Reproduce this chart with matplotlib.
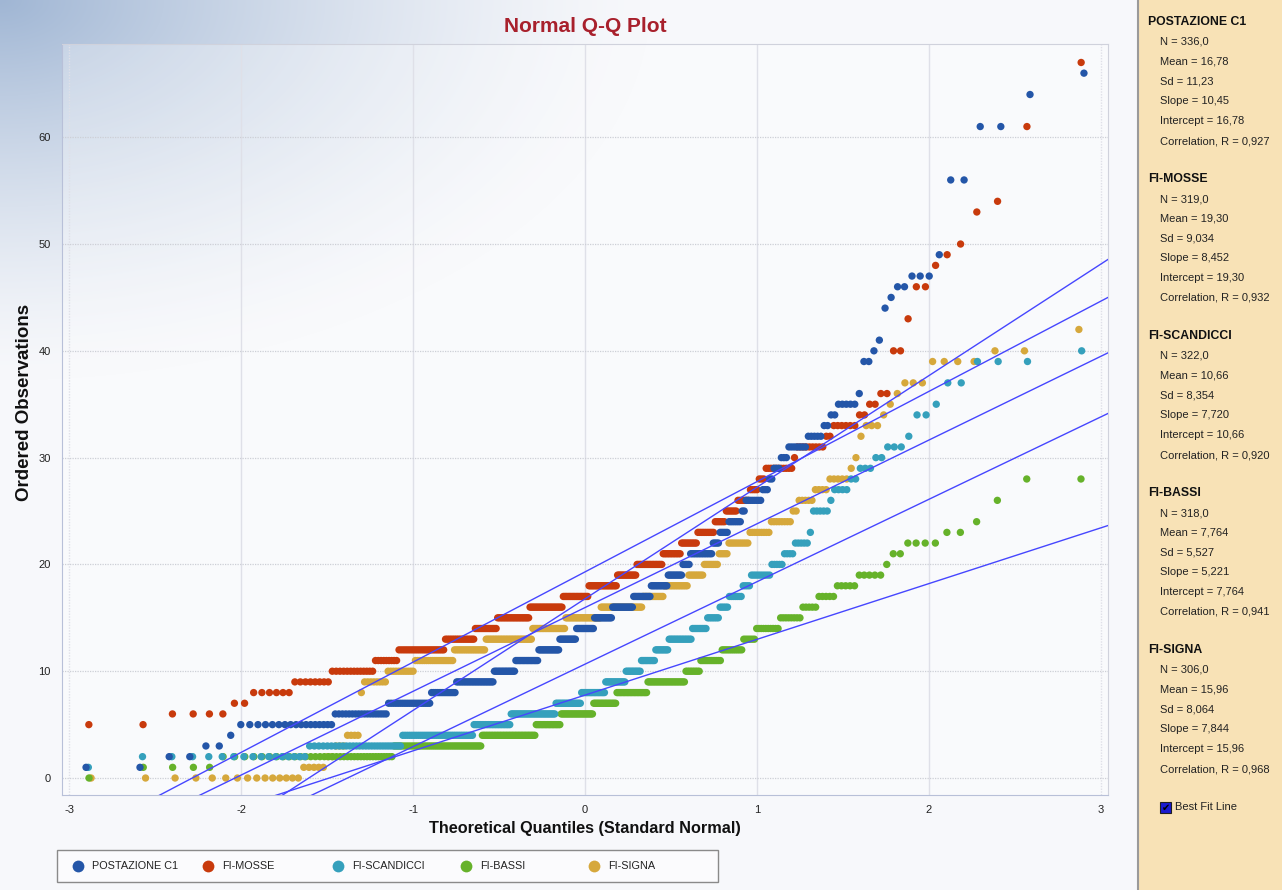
import numpy as np
import matplotlib
matplotlib.use("Agg")
import matplotlib.pyplot as plt
from matplotlib.patches import Rectangle
from matplotlib.lines import Line2D
from statistics import NormalDist
import math

plt.rcParams['font.family'] = ['Liberation Sans', 'DejaVu Sans']
plt.rcParams['axes.unicode_minus'] = False

# ---------------- data (ordered observations as value / count) ----------------
series_names = ["POSTAZIONE C1", "FI-MOSSE", "FI-SCANDICCI", "FI-BASSI", "FI-SIGNA"]
series_colors = ["#2456a8", "#c83a0c", "#35a0bc", "#66b22a", "#d6a83c"]

c1_values = list(range(1, 37)) + [39, 40, 41, 44, 45, 46, 47, 49, 56, 61, 64, 66]
c1_counts = [2, 2, 2, 1, 17, 18, 20, 14, 24, 15, 17, 16, 13, 14, 14, 16, 13, 12, 10, 5,
             14, 4, 5, 7, 2, 8, 3, 2, 3, 3, 7, 5, 2, 2, 5, 1,
             2, 1, 1, 1, 1, 2, 3, 1, 2, 2, 1, 1]

mosse_values = list(range(5, 37)) + [40, 43, 46, 48, 49, 50, 53, 54, 61, 67]
mosse_counts = [2, 4, 2, 6, 8, 13, 9, 22, 17, 14, 22, 24, 19, 21, 14, 18, 12, 10, 10, 6,
                6, 6, 4, 3, 11, 1, 9, 2, 6, 2, 2, 2,
                2, 1, 2, 1, 1, 1, 1, 1, 1, 1]

scandicci_values = list(range(1, 24)) + [25, 26, 27, 28, 29, 30, 31, 32, 34, 35, 37, 39, 40]
scandicci_counts = [1, 16, 29, 37, 24, 32, 19, 18, 15, 11, 10, 9, 15, 9, 7, 5, 7, 4, 9, 5,
                    4, 5, 1,
                    5, 1, 4, 2, 3, 2, 3, 1, 2, 1, 2, 3, 1]

bassi_values = list(range(0, 25)) + [26, 28]
bassi_counts = [1, 4, 37, 45, 36, 18, 24, 17, 22, 25, 9, 12, 11, 6, 10, 8, 5, 5, 5, 5,
                1, 2, 4, 2, 1, 1, 2]

signa_values = [0, 1, 2, 3, 4] + list(range(8, 31)) + [32, 33, 34, 35, 36, 37, 39, 40, 42]
signa_counts = [15, 5, 2, 3, 4,
                1, 8, 11, 19, 18, 30, 23, 25, 29, 14, 15, 9, 8, 5, 10, 9, 8, 2, 5, 4, 5, 1, 1,
                1, 3, 1, 1, 1, 3, 4, 2, 1]

# summary statistics shown in the side panel
stat_n = [336.0, 319.0, 322.0, 318.0, 306.0]
stat_mean = [16.78, 19.30, 10.66, 7.764, 15.96]
stat_sd = [11.23, 9.034, 8.354, 5.527, 8.064]
stat_slope = [10.45, 8.452, 7.720, 5.221, 7.844]
stat_intercept = [16.78, 19.30, 10.66, 7.764, 15.96]
stat_corr = [0.927, 0.932, 0.920, 0.941, 0.968]

x_ticks = [-3, -2, -1, 0, 1, 2, 3]
y_ticks = [0, 10, 20, 30, 40, 50, 60]

all_values = [c1_values, mosse_values, scandicci_values, bassi_values, signa_values]
all_counts = [c1_counts, mosse_counts, scandicci_counts, bassi_counts, signa_counts]

# ---------------- helpers ----------------
nd = NormalDist()


def qq(values, counts):
    obs = np.repeat(np.array(values, float), counts)
    n = len(obs)
    i = np.arange(1, n + 1)
    p = (i - 0.375) / (n + 0.25)
    q = np.array([nd.inv_cdf(pp) for pp in p])
    return q, obs


def fmt4(v):
    dec = max(0, 3 - int(math.floor(math.log10(abs(v)))))
    return f"{v:.{dec}f}".replace(".", ",")


W, H = 1282, 890
fig = plt.figure(figsize=(W / 100, H / 100), dpi=100)


def fx(px):
    return px / W


def fy(py):
    return 1 - py / H


# ---------------- background gradient ----------------
bg = fig.add_axes([0, 0, 1, 1], zorder=-10)
yy, xx = np.mgrid[0:H, 0:W]
d = np.sqrt((xx / 650.0) ** 2 + (yy / 380.0) ** 2)
f = np.clip(1 - d, 0, 1) ** 1.4
base = np.array([247, 248, 251]) / 255.0
tint = np.array([160, 182, 212]) / 255.0
img = base[None, None, :] * (1 - f[..., None]) + tint[None, None, :] * f[..., None]
bg.imshow(img, extent=[0, W, H, 0], aspect='auto', interpolation='bilinear')
bg.set_xlim(0, W)
bg.set_ylim(H, 0)
bg.axis('off')

# ---------------- main axes ----------------
ax = fig.add_axes([fx(62), fy(795), fx(1108) - fx(62), fy(44) - fy(795)])
ax.set_facecolor((1, 1, 1, 0.3))
ax.set_xlim(-3.041, 3.041)
ax.set_ylim(-1.59, 68.73)

for xt in x_ticks:
    ax.axvline(xt, color='#dfe0e8', lw=1.0, zorder=0.5,
               ls=(0, (1, 1)) if xt in (-3, 3) else '-')
for yt in y_ticks:
    ax.axhline(yt, color='#cdcfd6', lw=0.9, ls=(0, (1, 1)), zorder=0.5)

ax.set_xticks(x_ticks)
ax.set_yticks(y_ticks)
ax.tick_params(length=0, labelsize=8, colors='#222222')
ax.tick_params(axis='y', pad=8)
ax.tick_params(axis='x', pad=7)
for s in ['left', 'bottom']:
    ax.spines[s].set_color('#b8c0d8')
for s in ['top', 'right']:
    ax.spines[s].set_color('#d0d2dc')

zorders = [6, 5, 4, 3, 2]
for k in range(5):
    q, obs = qq(all_values[k], all_counts[k])
    ax.scatter(q, obs, s=28, color=series_colors[k], edgecolors='none',
               zorder=zorders[k], clip_on=False)

xl = np.array([-3.1, 3.1])
for k in range(5):
    ax.plot(xl, stat_intercept[k] + stat_slope[k] * xl, color='#4646ff', lw=1.0,
            zorder=8)

fig.text(fx(585), fy(26), "Normal Q-Q Plot", color='#a8202c', fontsize=15,
         fontweight='bold', ha='center', va='center')
fig.text(fx(585), fy(829), "Theoretical Quantiles (Standard Normal)", fontsize=11.7,
         fontweight='bold', ha='center', va='center', color='#111111')
fig.text(fx(25), fy(402), "Ordered Observations", fontsize=13.5, fontweight='bold',
         ha='center', va='center', rotation=90, color='#111111')

# ---------------- legend ----------------
fig.patches.append(Rectangle((fx(57), fy(882)), fx(718) - fx(57), fy(850) - fy(882),
                             transform=fig.transFigure, facecolor='#fbfbfd',
                             edgecolor='#8a8a8a', lw=1.0, zorder=1))
leg_mx = [78, 208, 338, 466, 594]
for k in range(5):
    fig.lines.append(Line2D([fx(leg_mx[k])], [fy(866)], transform=fig.transFigure,
                            marker='o', markersize=8.5, color=series_colors[k],
                            markeredgecolor='none', zorder=2))
    fig.text(fx(leg_mx[k] + 14), fy(866), series_names[k], fontsize=7.8,
             ha='left', va='center', color='#222222')

# ---------------- side panel ----------------
fig.patches.append(Rectangle((fx(1138), 0), 1 - fx(1138), 1, transform=fig.transFigure,
                             facecolor='#f8e2b6', edgecolor='none', zorder=1))
fig.lines.append(Line2D([fx(1138), fx(1138)], [0, 1], transform=fig.transFigure,
                        color='#9a9a9a', lw=1.5, zorder=2))
for k in range(5):
    y0 = 22 + 157 * k
    fig.text(fx(1148), fy(y0), series_names[k], fontsize=8.8, fontweight='bold',
             ha='left', va='center', color='#111111')
    lines = [f"N = {stat_n[k]:.1f}".replace(".", ","),
             f"Mean = {fmt4(stat_mean[k])}",
             f"Sd = {fmt4(stat_sd[k])}",
             f"Slope = {fmt4(stat_slope[k])}",
             f"Intercept = {fmt4(stat_intercept[k])}",
             f"Correlation, R = {stat_corr[k]:.3f}".replace(".", ",")]
    for j, t in enumerate(lines):
        fig.text(fx(1160), fy(42 + 157 * k + 19.8 * j), t, fontsize=8,
                 ha='left', va='center', color='#222222')

fig.patches.append(Rectangle((fx(1160), fy(813)), fx(11), fy(802) - fy(813),
                             transform=fig.transFigure, facecolor='#1a1ad0',
                             edgecolor='#202020', lw=0.8, zorder=3))
fig.text(fx(1165.5), fy(807.5), "\u2714", fontsize=7, ha='center', va='center',
         color='#000000', family='DejaVu Sans', zorder=4)
fig.text(fx(1175), fy(807), "Best Fit Line", fontsize=8, ha='left', va='center',
         color='#222222')

fig.savefig("out.png", dpi=100)
